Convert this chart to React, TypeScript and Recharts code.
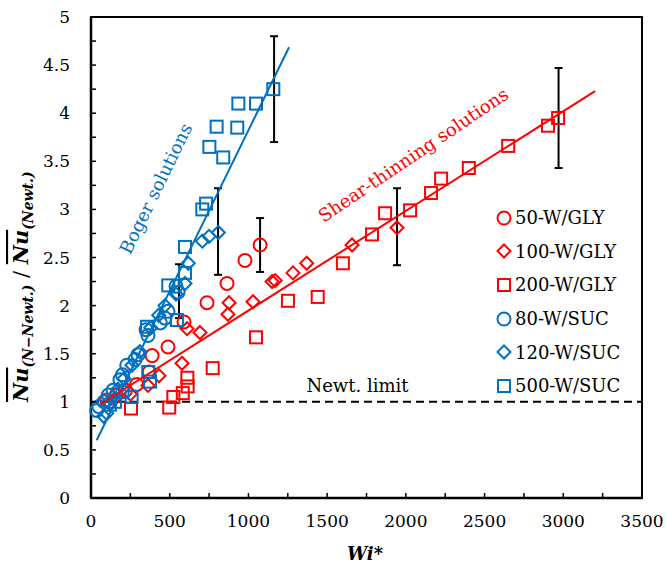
import {
  ComposedChart,
  Scatter,
  XAxis,
  YAxis,
  ReferenceLine,
  ReferenceArea,
  ReferenceDot,
  ErrorBar,
  Legend,
  Label,
} from "recharts";

const RED = "#FF0000";
const BLUE = "#0070C0";
const FONT = "DejaVu Serif";

type P = [number, number];

// 50-W/GLY
const gly50: P[] = [
  [1074, 2.63], [978, 2.47], [864, 2.23], [737, 2.03], [591, 1.83], [489, 1.57],
  [388, 1.48], [370, 1.31], [290, 1.18], [220, 1.12], [160, 1.07], [100, 1.02],
];
// 100-W/GLY
const gly100: P[] = [
  [1944, 2.81], [1658, 2.63], [1370, 2.44], [1283, 2.34], [1170, 2.26], [1150, 2.25],
  [1029, 2.04], [877, 2.03], [870, 1.91], [692, 1.72], [610, 1.76], [578, 1.4],
  [432, 1.27], [362, 1.17], [250, 1.08], [150, 1.03],
];
// 200-W/GLY
const gly200: P[] = [
  [2967, 3.95], [2903, 3.87], [2650, 3.66], [2400, 3.43], [2224, 3.32], [2160, 3.17],
  [2027, 2.99], [1868, 2.96], [1785, 2.74], [1600, 2.44], [1440, 2.09], [1251, 2.05],
  [1048, 1.67], [773, 1.35], [612, 1.25], [614, 1.16], [583, 1.09], [523, 1.05],
  [497, 0.94], [254, 0.93],
];
// 80-W/SUC
const suc80: P[] = [
  [553, 2.14], [540, 2.2], [489, 1.94], [470, 1.87], [440, 1.82], [362, 1.69],
  [350, 1.75], [299, 1.49], [280, 1.44], [227, 1.38], [200, 1.28], [184, 1.23],
  [140, 1.12], [110, 1.07], [83, 1.0], [50, 0.95], [36, 0.91],
];
// 120-W/SUC
const suc120: P[] = [
  [809, 2.76], [750, 2.72], [707, 2.67], [618, 2.44], [597, 2.23], [540, 2.12],
  [470, 2.0], [430, 1.9], [379, 1.77], [310, 1.52], [260, 1.38], [210, 1.24],
  [170, 1.13], [140, 1.05], [120, 0.98], [100, 0.88], [80, 0.85],
];
// 500-W/SUC
const suc500: P[] = [
  [1158, 4.25], [1048, 4.1], [936, 4.1], [929, 3.85], [798, 3.86], [840, 3.54],
  [752, 3.65], [731, 3.06], [707, 3.0], [597, 2.61], [597, 2.34], [491, 2.21],
  [546, 1.85], [356, 1.78], [364, 1.31], [375, 1.21], [258, 1.05], [200, 1.1],
  [152, 1.0], [120, 0.97],
];

const errorBars = [
  { x: 559, y: 2.15, e: 0.28 },
  { x: 807, y: 2.77, e: 0.45 },
  { x: 1074, y: 2.63, e: 0.28 },
  { x: 1163, y: 4.25, e: 0.55 },
  { x: 1944, y: 2.82, e: 0.4 },
  { x: 2970, y: 3.95, e: 0.52 },
];

const bogerFit: P[] = [[36, 0.6], [1258, 4.685]];
const shearFit: P[] = [[62, 0.977], [3202, 4.23]];

const xTicks = [0, 250, 500, 750, 1000, 1250, 1500, 1750, 2000, 2250, 2500, 2750, 3000, 3250, 3500];
const yTicks = [0, 0.25, 0.5, 0.75, 1, 1.25, 1.5, 1.75, 2, 2.25, 2.5, 2.75, 3, 3.25, 3.5, 3.75, 4, 4.25, 4.5, 4.75, 5];

const legendItems = [
  { name: "50-W/GLY", kind: "circle", color: RED },
  { name: "100-W/GLY", kind: "diamond", color: RED },
  { name: "200-W/GLY", kind: "square", color: RED },
  { name: "80-W/SUC", kind: "circle", color: BLUE },
  { name: "120-W/SUC", kind: "diamond", color: BLUE },
  { name: "500-W/SUC", kind: "square", color: BLUE },
];

const toPts = (a: P[]) => a.map(([x, y]) => ({ x, y }));

const Marker = ({ cx, cy, kind, color }: any) => {
  if (kind === "circle")
    return <circle cx={cx} cy={cy} r={6.5} fill="none" stroke={color} strokeWidth={2} />;
  if (kind === "square")
    return <rect x={cx - 6} y={cy - 6} width={12} height={12} fill="none" stroke={color} strokeWidth={2} />;
  return (
    <path
      d={`M${cx},${cy - 6.5}L${cx + 6.5},${cy}L${cx},${cy + 6.5}L${cx - 6.5},${cy}Z`}
      fill="none"
      stroke={color}
      strokeWidth={2}
    />
  );
};

const XTick = ({ x, y, payload }: any) => (
  <g>
    <line x1={x} x2={x} y1={y} y2={y - 5} stroke="#000" strokeWidth={1.5} />
    {payload.value % 500 === 0 && (
      <text x={x} y={y + 29} textAnchor="middle" fontFamily={FONT} fontSize={17} fill="#000">
        {payload.value}
      </text>
    )}
  </g>
);

const YTick = ({ x, y, payload }: any) => (
  <g>
    <line x1={x} x2={x + 5} y1={y} y2={y} stroke="#000" strokeWidth={1.5} />
    {Number.isInteger(payload.value * 2) && (
      <text x={x - 21} y={y + 6} textAnchor="end" fontFamily={FONT} fontSize={17} fill="#000">
        {payload.value}
      </text>
    )}
  </g>
);

const YTitle = () => (
  <text
    transform="translate(28,402) rotate(-90)"
    textAnchor="start"
    fontFamily={FONT}
    fontWeight="bold"
    fontStyle="italic"
    fill="#000"
  >
    <tspan fontSize={21} style={{ textDecoration: "overline" }}>Nu</tspan>
    <tspan fontSize={14} dy={5}>(N−Newt.)</tspan>
    <tspan fontSize={21} dy={-5} fontWeight="normal" fontStyle="normal"> / </tspan>
    <tspan fontSize={21} style={{ textDecoration: "overline" }}>Nu</tspan>
    <tspan fontSize={14} dy={5}>(Newt.)</tspan>
  </text>
);

const RotLabel = ({ viewBox, text, rot, color }: any) => {
  const cx = viewBox.x + viewBox.width / 2;
  const cy = viewBox.y + viewBox.height / 2;
  return (
    <g transform={`translate(${cx},${cy}) rotate(${rot})`}>
      <text x={0} y={0} textAnchor="middle" dominantBaseline="middle" fontFamily={FONT} fontSize={18} fill={color}>
        {text}
      </text>
    </g>
  );
};

const LegendBox = () => (
  <div style={{ fontFamily: FONT, fontSize: 18, color: "#000" }}>
    {legendItems.map((it) => (
      <div key={it.name} style={{ display: "flex", alignItems: "center", height: 33.6 }}>
        <svg width={16} height={16} style={{ marginRight: 3 }}>
          <Marker cx={8} cy={8} kind={it.kind} color={it.color} />
        </svg>
        <span>{it.name}</span>
      </div>
    ))}
  </div>
);

const series = [
  { data: gly50, kind: "circle", color: RED },
  { data: gly100, kind: "diamond", color: RED },
  { data: gly200, kind: "square", color: RED },
  { data: suc80, kind: "circle", color: BLUE },
  { data: suc120, kind: "diamond", color: BLUE },
  { data: suc500, kind: "square", color: BLUE },
];

export default function App() {
  return (
    <div style={{ position: "absolute", left: 0, top: 0, background: "#fff" }}>
      <ComposedChart width={667} height={571} margin={{ top: 17, right: 25, bottom: 0, left: 0 }}>
        <XAxis
          type="number"
          dataKey="x"
          domain={[0, 3500]}
          ticks={xTicks}
          tick={<XTick />}
          tickSize={0}
          tickMargin={0}
          tickLine={false}
          height={73}
          axisLine={{ stroke: "#000", strokeWidth: 2.5 }}
        >
          <Label
            content={() => (
              <text x={365} y={560} textAnchor="middle" fontFamily={FONT} fontSize={18} fontWeight="bold" fontStyle="italic" fill="#000">
                Wi*
              </text>
            )}
          />
        </XAxis>
        <YAxis
          type="number"
          dataKey="y"
          domain={[0, 5]}
          ticks={yTicks}
          tick={<YTick />}
          tickSize={0}
          tickMargin={0}
          tickLine={false}
          width={91}
          axisLine={{ stroke: "#000", strokeWidth: 2.5 }}
        >
          <Label content={() => <YTitle />} />
        </YAxis>
        <ReferenceArea x1={0} x2={3500} y1={0} y2={5} fill="none" fillOpacity={0} stroke="#000" strokeWidth={2} />
        <ReferenceLine
          y={1}
          stroke="#000"
          strokeWidth={2}
          strokeDasharray="8 5"
          label={{ value: "Newt. limit", position: "center", dx: -9, dy: -16, fontFamily: FONT, fontSize: 18, fill: "#000" }}
        />
        <ReferenceDot x={419} y={3.21} r={0} fill="none" stroke="none" label={<RotLabel text="Boger solutions" rot={-64} color={BLUE} />} />
        <ReferenceDot
          x={2052}
          y={3.555}
          r={0}
          fill="none"
          stroke="none"
          label={<RotLabel text="Shear-thinning solutions" rot={-34} color={RED} />}
        />
        {series.map((s, i) => (
          <Scatter
            key={i}
            data={toPts(s.data)}
            isAnimationActive={false}
            shape={(p: any) => <Marker cx={p.cx} cy={p.cy} kind={s.kind} color={s.color} />}
          />
        ))}
        <Scatter
          data={toPts(bogerFit)}
          line={{ stroke: BLUE, strokeWidth: 2 }}
          shape={() => <g />}
          isAnimationActive={false}
        />
        <Scatter
          data={toPts(shearFit)}
          line={{ stroke: RED, strokeWidth: 2 }}
          shape={() => <g />}
          isAnimationActive={false}
        />
        <Scatter data={errorBars} shape={() => <g />} isAnimationActive={false}>
          <ErrorBar dataKey="e" direction="y" width={4} stroke="#000" strokeWidth={2} isAnimationActive={false} />
        </Scatter>
        <Legend
          layout="vertical"
          align="center"
          verticalAlign="middle"
          content={() => <LegendBox />}
          wrapperStyle={{ left: 496, top: 201, width: 160 }}
        />
      </ComposedChart>
    </div>
  );
}
